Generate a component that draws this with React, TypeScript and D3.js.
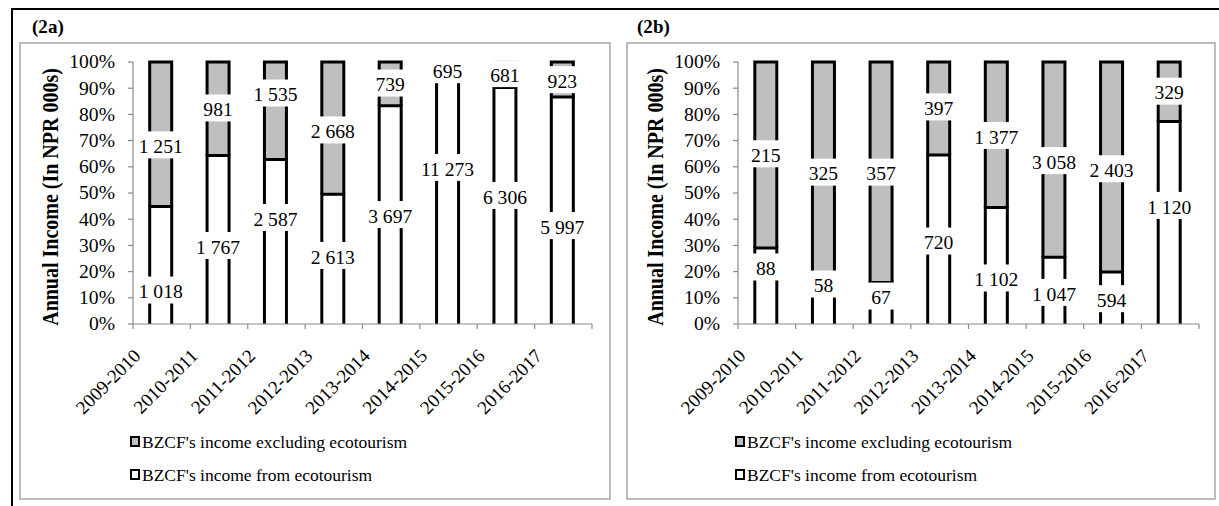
import React from 'react';
import * as d3 from 'd3';

const years = ['2009-2010', '2010-2011', '2011-2012', '2012-2013', '2013-2014', '2014-2015', '2015-2016', '2016-2017'];

// Panel (2a)
const ecoA = [1018, 1767, 2587, 2613, 3697, 11273, 6306, 5997];
const otherA = [1251, 981, 1535, 2668, 739, 695, 681, 923];
// label anchor (percent of bar height) as placed in the original
const ecoLabelA = [12.2, 29.2, 39.9, 25.4, 41, 59, 48.3, 36.8];
const otherLabelA = [67.6, 81.7, 87.4, 73.3, 91.2, 96.3, 94.8, 92.5];

// Panel (2b)
const ecoB = [88, 58, 67, 720, 1102, 1047, 594, 1120];
const otherB = [215, 325, 357, 397, 1377, 3058, 2403, 329];
const ecoLabelB = [21, 14.5, 9.9, 30.9, 16.8, 11.3, 8.9, 44.5];
const otherLabelB = [64.2, 57.2, 57.2, 82.1, 71.2, 61.6, 58.5, 88.1];

const yTicks = [0, 10, 20, 30, 40, 50, 60, 70, 80, 90, 100];
const legendLabels = ["BZCF's income excluding ecotourism", "BZCF's income from ecotourism"];
const yTitle = 'Annual Income (In NPR 000s)';

const FONT = 'Liberation Serif, Times New Roman, serif';
const GRAY = '#bfbfbf';
const AXIS = '#8a8a8a';

const fmt = d3.formatLocale({ decimal: '.', thousands: ' ', grouping: [3], currency: ['', ''] }).format(',');

const tf = (x: number, y: number, sx = 1.06, rot = 0) =>
  `translate(${x},${y}) scale(${sx},1)` + (rot ? ` rotate(${rot})` : '');

type PanelProps = {
  title: string;
  eco: number[];
  other: number[];
  ecoLab: number[];
  otherLab: number[];
  dx: number;
  x0: number;
  x1: number;
  box: [number, number];
};

function Panel({ title, eco, other, ecoLab, otherLab, dx, x0, x1, box }: PanelProps) {
  const x = d3.scaleBand<string>().domain(years).range([x0, x1]);
  const y = d3.scaleLinear().domain([0, 100]).range([324, 62]);
  const bw = 22;
  const labelH = 27;

  return (
    <g>
      <rect x={box[0]} y={43} width={box[1] - box[0]} height={456} fill="white" stroke="#a6a6a6" strokeWidth={1.5} />
      <text transform={tf(32 + dx, 33, 1.06)} fontFamily={FONT} fontWeight="bold" fontSize={18}>{title}</text>

      {/* y axis title */}
      <text transform={tf(58 + dx, 197, 1.12, -90)} textAnchor="middle" fontFamily={FONT} fontWeight="bold" fontSize={20}>{yTitle}</text>

      {/* bars */}
      {years.map((yr, i) => {
        const total = eco[i] + other[i];
        const p = (eco[i] / total) * 100;
        const cx = (x(yr) as number) + x.bandwidth() / 2 - 1;
        const xl = cx - bw / 2;
        const xr = cx + bw / 2;
        const gray = d3.path();
        gray.moveTo(xl, y(p));
        gray.lineTo(xl, y(100));
        gray.lineTo(xr, y(100));
        gray.lineTo(xr, y(p));
        const white = d3.path();
        white.moveTo(xl, y(0));
        white.lineTo(xl, y(p));
        white.lineTo(xr, y(p));
        white.lineTo(xr, y(0));
        return (
          <g key={yr}>
            <path d={gray.toString()} fill={GRAY} stroke="black" strokeWidth={3} />
            <path d={white.toString()} fill="white" stroke="black" strokeWidth={3} />
          </g>
        );
      })}

      {/* data labels */}
      {years.map((yr, i) => {
        const cx = (x(yr) as number) + x.bandwidth() / 2 - 1;
        return (
          <g key={'l' + yr}>
            {[
              { v: other[i], pos: otherLab[i] },
              { v: eco[i], pos: ecoLab[i] },
            ].map((d, j) => (
              <g key={j}>
                <rect x={cx - 18} y={y(d.pos) - 15.5} width={36} height={labelH} fill="white" />
                <text transform={tf(cx, y(d.pos) + 6.3)} textAnchor="middle" fontFamily={FONT} fontSize={18.5}>
                  {fmt(d.v)}
                </text>
              </g>
            ))}
          </g>
        );
      })}

      {/* y axis */}
      <line x1={x0} x2={x0} y1={y(0)} y2={y(100)} stroke={AXIS} strokeWidth={1.2} />
      {yTicks.map((t) => (
        <g key={t}>
          <line x1={x0 - 5} x2={x0} y1={y(t)} y2={y(t)} stroke={AXIS} strokeWidth={1.2} />
          <text transform={tf(x0 - 18, y(t) + 6.3)} textAnchor="end" fontFamily={FONT} fontSize={18.5}>
            {t + '%'}
          </text>
        </g>
      ))}

      {/* x axis */}
      <line x1={x0} x2={x1} y1={y(0)} y2={y(0)} stroke={AXIS} strokeWidth={1.2} />
      {years.map((yr) => (
        <line key={'t' + yr} x1={x(yr) as number} x2={x(yr) as number} y1={y(0)} y2={y(0) + 5} stroke={AXIS} strokeWidth={1.2} />
      ))}
      <line x1={x1} x2={x1} y1={y(0)} y2={y(0) + 5} stroke={AXIS} strokeWidth={1.2} />
      {years.map((yr) => (
        <text
          key={'x' + yr}
          transform={`translate(${(x(yr) as number) + x.bandwidth() / 2 - 20},357) rotate(-45)`}
          textAnchor="end"
          fontFamily={FONT}
          fontSize={19}
        >
          {yr}
        </text>
      ))}

      {/* legend */}
      {legendLabels.map((lab, i) => (
        <g key={lab}>
          <rect x={131 + dx} y={437 + i * 33} width={8} height={9} fill={i === 0 ? GRAY : 'white'} stroke="black" strokeWidth={2} />
          <text transform={tf(142 + dx, 447.5 + i * 33, 1)} fontFamily={FONT} fontSize={17.5}>
            {lab}
          </text>
        </g>
      ))}
    </g>
  );
}

export default function App() {
  return (
    <svg width={1219} height={506} style={{ position: 'absolute', left: 0, top: 0, background: 'white' }}>
      <rect x={0} y={0} width={1219} height={506} fill="white" />
      <line x1={11} x2={1219} y1={9} y2={9} stroke="black" strokeWidth={2} />
      <line x1={12} x2={12} y1={8} y2={506} stroke="black" strokeWidth={2} />
      <Panel title="(2a)" eco={ecoA} other={otherA} ecoLab={ecoLabelA} otherLab={otherLabelA} dx={0} x0={133} x1={592} box={[20, 610]} />
      <Panel title="(2b)" eco={ecoB} other={otherB} ecoLab={ecoLabelB} otherLab={otherLabelB} dx={605} x0={738} x1={1199} box={[627, 1215]} />
    </svg>
  );
}
